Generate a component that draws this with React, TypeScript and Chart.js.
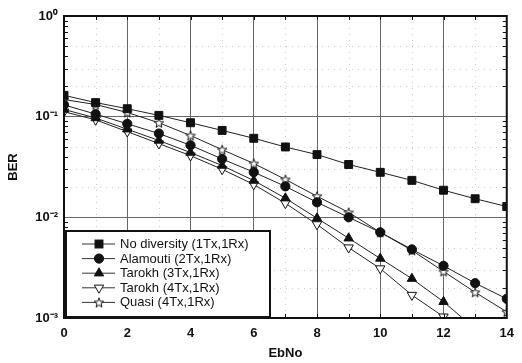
import React, { useEffect, useRef } from 'react';
import { Chart, registerables } from 'chart.js';

Chart.register(...registerables);

// ---- data ----
const ebno = [0, 1, 2, 3, 4, 5, 6, 7, 8, 9, 10, 11, 12, 13, 14];
const noDiversity = [0.163, 0.138, 0.12, 0.103, 0.087, 0.073, 0.061, 0.05, 0.042, 0.0335, 0.028, 0.0233, 0.0186, 0.0153, 0.0128];
const alamouti = [0.131, 0.106, 0.085, 0.068, 0.052, 0.038, 0.0281, 0.0203, 0.0141, 0.01, 0.0071, 0.0048, 0.0033, 0.00222, 0.00155];
const tarokh3 = [0.118, 0.097, 0.075, 0.058, 0.044, 0.0327, 0.0232, 0.0155, 0.0098, 0.0062, 0.0039, 0.00246, 0.00145, 0.00078, 0.00046];
const tarokh4 = [0.112, 0.093, 0.071, 0.054, 0.041, 0.03, 0.0212, 0.0138, 0.0085, 0.005, 0.0031, 0.00169, 0.00103, 0.0006, 0.00035];
const quasi = [0.148, 0.132, 0.11, 0.087, 0.065, 0.047, 0.0343, 0.0238, 0.0162, 0.0112, 0.0071, 0.0047, 0.0029, 0.0018, 0.00115];

const seriesNames = [
  'No diversity (1Tx,1Rx)',
  'Alamouti (2Tx,1Rx)',
  'Tarokh (3Tx,1Rx)',
  'Tarokh (4Tx,1Rx)',
  'Quasi (4Tx,1Rx)',
];

const yDecades = [0.001, 0.01, 0.1, 1];
const yDecadeLabels = ['10⁻³', '10⁻²', '10⁻¹', '10⁰'];
const xLabelValues = [0, 2, 4, 6, 8, 10, 12, 14];

const FONT = "'Liberation Sans', Arial, sans-serif";

function makeStar(): HTMLCanvasElement {
  const c = document.createElement('canvas');
  const s = 12;
  c.width = s;
  c.height = s;
  const ctx = c.getContext('2d')!;
  const cx = s / 2, cy = s / 2 + 0.5, R = 5, r = 2.1;
  ctx.beginPath();
  for (let i = 0; i < 10; i++) {
    const a = -Math.PI / 2 + (i * Math.PI) / 5;
    const rad = i % 2 === 0 ? R : r;
    ctx.lineTo(cx + rad * Math.cos(a), cy + rad * Math.sin(a));
  }
  ctx.closePath();
  ctx.fillStyle = '#fff';
  ctx.fill();
  ctx.strokeStyle = '#111';
  ctx.lineWidth = 1;
  ctx.stroke();
  return c;
}

function isDecade(v: number) {
  const l = Math.log10(v);
  return Math.abs(l - Math.round(l)) < 1e-6;
}

function drawMarker(ctx: CanvasRenderingContext2D, ds: any, x: number, y: number) {
  const style = ds.pointStyle;
  const r = ds.pointRadius;
  ctx.save();
  ctx.fillStyle = ds.pointBackgroundColor;
  ctx.strokeStyle = ds.pointBorderColor;
  ctx.lineWidth = 1;
  if (style instanceof HTMLCanvasElement) {
    ctx.drawImage(style, x - style.width / 2, y - style.height / 2);
  } else if (style === 'rect') {
    const s = r * Math.SQRT1_2;
    ctx.fillRect(x - s, y - s, 2 * s, 2 * s);
    ctx.strokeRect(x - s, y - s, 2 * s, 2 * s);
  } else if (style === 'circle') {
    ctx.beginPath();
    ctx.arc(x, y, r, 0, Math.PI * 2);
    ctx.fill();
    ctx.stroke();
  } else if (style === 'triangle') {
    const rot = ((ds.pointRotation || 0) * Math.PI) / 180;
    ctx.beginPath();
    for (let k = 0; k < 3; k++) {
      const a = rot + (k * 2 * Math.PI) / 3;
      ctx.lineTo(x + Math.sin(a) * r, y - Math.cos(a) * r);
    }
    ctx.closePath();
    ctx.fill();
    ctx.stroke();
  }
  ctx.restore();
}

const framePlugin = {
  id: 'frame',
  beforeDatasetsDraw(chart: any) {
    const { ctx, chartArea: a, scales } = chart;
    const xs = scales.x, ys = scales.y;
    ctx.save();
    ctx.strokeStyle = 'rgba(0,0,0,0.2)';
    ctx.lineWidth = 1;
    ctx.setLineDash([1, 5]);
    for (let v = 1; v < 14; v += 2) {
      const px = Math.round(xs.getPixelForValue(v)) + 0.5;
      ctx.beginPath();
      ctx.moveTo(px, a.top);
      ctx.lineTo(px, a.bottom);
      ctx.stroke();
    }
    for (const d of [0.001, 0.01, 0.1]) {
      for (const m of [2, 3, 5]) {
        const py = Math.round(ys.getPixelForValue(d * m)) + 0.5;
        ctx.beginPath();
        ctx.moveTo(a.left, py);
        ctx.lineTo(a.right, py);
        ctx.stroke();
      }
    }
    ctx.restore();
  },
  afterDatasetsDraw(chart: any) {
    const { ctx, chartArea: a, scales } = chart;
    const xs = scales.x, ys = scales.y;
    ctx.save();
    // inward ticks
    ctx.strokeStyle = '#111';
    ctx.lineWidth = 1;
    for (let v = 1; v < 14; v++) {
      const px = Math.round(xs.getPixelForValue(v)) + 0.5;
      ctx.beginPath();
      ctx.moveTo(px, a.bottom);
      ctx.lineTo(px, a.bottom - 4);
      ctx.moveTo(px, a.top);
      ctx.lineTo(px, a.top + 4);
      ctx.stroke();
    }
    for (const d of [0.001, 0.01, 0.1]) {
      for (let m = 2; m <= 9; m++) {
        const py = Math.round(ys.getPixelForValue(d * m)) + 0.5;
        ctx.beginPath();
        ctx.moveTo(a.left, py);
        ctx.lineTo(a.left + 4, py);
        ctx.moveTo(a.right, py);
        ctx.lineTo(a.right - 4, py);
        ctx.stroke();
      }
    }
    // frame
    ctx.lineWidth = 2;
    ctx.strokeStyle = '#111';
    ctx.strokeRect(a.left, a.top, a.right - a.left, a.bottom - a.top);

    // legend
    const lx = a.left + 2, ly = 231, lw = 204, lh = 86;
    ctx.fillStyle = '#fff';
    ctx.fillRect(lx, ly, lw, lh);
    ctx.lineWidth = 2;
    ctx.strokeRect(lx, ly, lw, lh);
    ctx.font = `13px ${FONT}`;
    ctx.textBaseline = 'middle';
    ctx.textAlign = 'left';
    chart.data.datasets.forEach((ds: any, i: number) => {
      const y = ly + 13 + i * 14.6;
      ctx.strokeStyle = '#333';
      ctx.lineWidth = 1;
      ctx.beginPath();
      ctx.moveTo(lx + 16, y);
      ctx.lineTo(lx + 49, y);
      ctx.stroke();
      drawMarker(ctx, ds, lx + 33, y);
      ctx.fillStyle = '#111';
      ctx.fillText(ds.label, lx + 54, y + 0.5);
    });
    ctx.restore();
  },
};

export default function App() {
  const ref = useRef<HTMLCanvasElement>(null);

  useEffect(() => {
    document.body.style.margin = '0';
    const star = makeStar();
    const pts = (arr: number[]) => ebno.map((x, i) => ({ x, y: arr[i] }));
    const base = {
      borderColor: '#222',
      borderWidth: 1,
      pointBorderColor: '#111',
      pointBorderWidth: 1,
      tension: 0,
      fill: false,
    };
    const chart = new Chart(ref.current!, {
      type: 'line',
      data: {
        datasets: [
          { ...base, label: seriesNames[0], data: pts(noDiversity), pointStyle: 'rect', pointRadius: 5.6, pointBackgroundColor: '#111' },
          { ...base, label: seriesNames[1], data: pts(alamouti), pointStyle: 'circle', pointRadius: 4.6, pointBackgroundColor: '#111' },
          { ...base, label: seriesNames[2], data: pts(tarokh3), pointStyle: 'triangle', pointRadius: 5.4, pointBackgroundColor: '#111' },
          { ...base, label: seriesNames[3], data: pts(tarokh4), pointStyle: 'triangle', pointRotation: 180, pointRadius: 5.4, pointBackgroundColor: '#fff' },
          { ...base, label: seriesNames[4], data: pts(quasi), pointStyle: star as any, pointRadius: 5, pointBackgroundColor: '#fff' },
        ] as any,
      },
      options: {
        animation: false,
        responsive: false,
        devicePixelRatio: 1,
        layout: { padding: { top: 16, right: 13, left: 0, bottom: 0 } },
        plugins: { legend: { display: false }, tooltip: { enabled: false } },
        scales: {
          x: {
            type: 'linear',
            min: 0,
            max: 14,
            afterBuildTicks: (s: any) => {
              s.ticks = ebno.map((v) => ({ value: v }));
            },
            ticks: {
              autoSkip: false,
              maxRotation: 0,
              padding: 8,
              color: '#111',
              font: { family: FONT, size: 13, weight: 'bold' },
              callback: (v: any) => (xLabelValues.includes(Number(v)) ? String(v) : ''),
            },
            grid: {
              drawTicks: false,
              lineWidth: 1,
              color: (c: any) => (c.tick && xLabelValues.includes(c.tick.value) ? '#666' : 'rgba(0,0,0,0)'),
            },
            border: { display: false },
            title: {
              display: true,
              text: 'EbNo',
              color: '#111',
              font: { family: FONT, size: 13, weight: 'bold' },
              padding: { top: 0, bottom: 2 },
            },
            afterFit: (s: any) => {
              s.height = 45;
            },
          },
          y: {
            type: 'logarithmic',
            min: 0.001,
            max: 1,
            afterBuildTicks: (s: any) => {
              const t: any[] = [];
              for (const d of [0.001, 0.01, 0.1]) {
                for (let m = 1; m <= 9; m++) t.push({ value: d * m });
              }
              t.push({ value: 1 });
              s.ticks = t;
            },
            ticks: {
              autoSkip: false,
              padding: 6,
              color: '#111',
              font: { family: FONT, size: 13, weight: 'bold' },
              callback: (v: any) => {
                const idx = yDecades.findIndex((d) => Math.abs(Math.log10(d) - Math.log10(Number(v))) < 1e-6);
                return idx >= 0 ? yDecadeLabels[idx] : '';
              },
            },
            grid: {
              drawTicks: false,
              lineWidth: 1,
              color: (c: any) => (c.tick && isDecade(c.tick.value) ? '#666' : 'rgba(0,0,0,0)'),
            },
            border: { display: false },
            title: {
              display: true,
              text: 'BER',
              color: '#111',
              font: { family: FONT, size: 13, weight: 'bold' },
              padding: { top: 6, bottom: 0 },
            },
            afterFit: (s: any) => {
              s.width = 64;
            },
          },
        },
      } as any,
      plugins: [framePlugin],
    });
    return () => chart.destroy();
  }, []);

  return <canvas ref={ref} width={522} height={363} style={{ display: 'block' }} />;
}
